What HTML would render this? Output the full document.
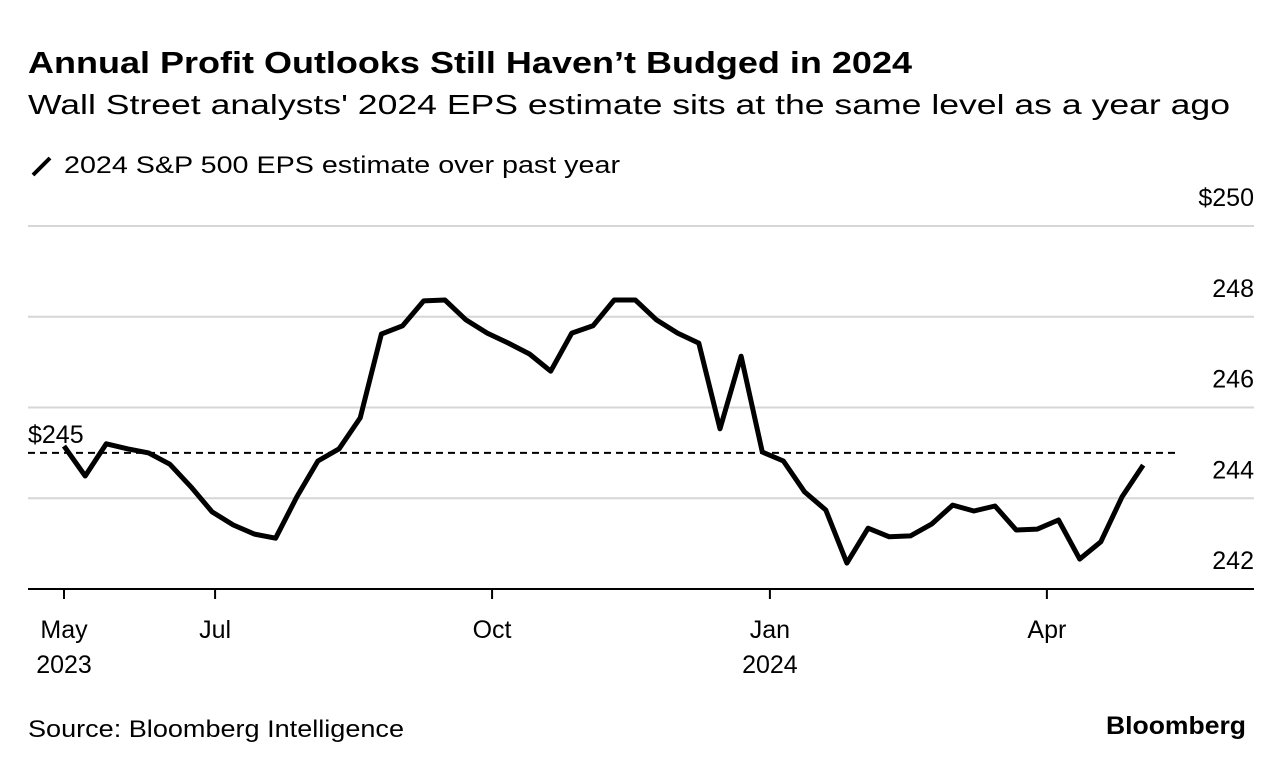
<!DOCTYPE html>
<html><head><meta charset="utf-8">
<style>
body{margin:0;background:#fff;width:1285px;height:770px;overflow:hidden;font-family:"Liberation Sans",sans-serif;color:#000}
svg{position:absolute;left:0;top:0}
</style></head>
<body>
<svg width="1285" height="770">
<text x="28" y="73" font-size="31" font-weight="bold" textLength="884" lengthAdjust="spacingAndGlyphs">Annual Profit Outlooks Still Haven’t Budged in 2024</text>
<text x="28" y="114" font-size="28" textLength="1202" lengthAdjust="spacingAndGlyphs">Wall Street analysts' 2024 EPS estimate sits at the same level as a year ago</text>
<line x1="33" y1="175" x2="50" y2="158" stroke="#000" stroke-width="4"/>
<text x="64" y="173" font-size="24" textLength="556" lengthAdjust="spacingAndGlyphs">2024 S&amp;P 500 EPS estimate over past year</text>
<g id="grid"></g>
<g id="xaxis"></g>
<path id="line" fill="none" stroke="#000" stroke-width="5" stroke-linejoin="round"/>
<text x="28" y="737" font-size="24" textLength="376" lengthAdjust="spacingAndGlyphs">Source: Bloomberg Intelligence</text>
<text x="1246" y="734" font-size="25" font-weight="bold" text-anchor="end" textLength="140" lengthAdjust="spacingAndGlyphs">Bloomberg</text>
</svg>
<script>
const values=[245.15,244.49,245.20,245.09,245.00,244.75,244.25,243.70,243.41,243.21,243.12,244.03,244.82,245.09,245.77,247.62,247.80,248.35,248.37,247.93,247.64,247.42,247.18,246.80,247.64,247.80,248.37,248.37,247.93,247.64,247.42,245.53,247.13,245.02,244.82,244.14,243.74,242.57,243.34,243.15,243.17,243.43,243.85,243.72,243.83,243.30,243.32,243.52,242.66,243.04,244.03,244.73];
const yTicks=[250,248,246,244,242];
const yTickLabels=["$250","248","246","244","242"];
const xTickPos=[0,7.14,20.23,33.36,46.45];
const xTickLabels=[["May","2023"],["Jul",""],["Oct",""],["Jan","2024"],["Apr",""]];
const refValue=245;
const ns="http://www.w3.org/2000/svg";
const y=v=>226+(250-v)*45.375;
const x=i=>64+i*21.16;
const grid=document.getElementById('grid');
function mk(tag,attrs,parent){const e=document.createElementNS(ns,tag);for(const k in attrs)e.setAttribute(k,attrs[k]);parent.appendChild(e);return e;}
yTicks.forEach((t,k)=>{
  const gl=mk('line',{x1:28,x2:1254,y1:y(t),y2:y(t),stroke:'#d6d6d6','stroke-width':2},grid);
  
  
  const tx=mk('text',{x:1254,y:y(t)-20,'font-size':25,'text-anchor':'end'},grid);
  tx.textContent=yTickLabels[k];
  
  
});
const base=mk('line',{x1:28,x2:1254,y1:y(242),y2:y(242),stroke:'#000','stroke-width':2},grid);


const ref=mk('line',{x1:28,x2:1180,y1:y(refValue),y2:y(refValue),stroke:'#000','stroke-width':2,'stroke-dasharray':'7,5'},grid);


const rl=mk('text',{x:28,y:y(refValue)-10,'font-size':25},grid);
rl.textContent='$'+refValue;


const xa=document.getElementById('xaxis');
xTickPos.forEach((p,k)=>{
  const tk=mk('line',{x1:x(p),x2:x(p),y1:y(242),y2:y(242)+10,stroke:'#000','stroke-width':2},xa);
  
  
  const t=mk('text',{x:x(p),y:638,'font-size':25,'text-anchor':'middle'},xa);
  t.textContent=xTickLabels[k][0];
  
  
  if(xTickLabels[k][1]){
    const t2=mk('text',{x:x(p),y:673,'font-size':25,'text-anchor':'middle'},xa);
    t2.textContent=xTickLabels[k][1];
    
    
  }
});
document.getElementById('line').setAttribute('d',values.map((v,i)=>(i?'L':'M')+x(i).toFixed(1)+','+y(v).toFixed(1)).join(''));
</script>
</body></html>
